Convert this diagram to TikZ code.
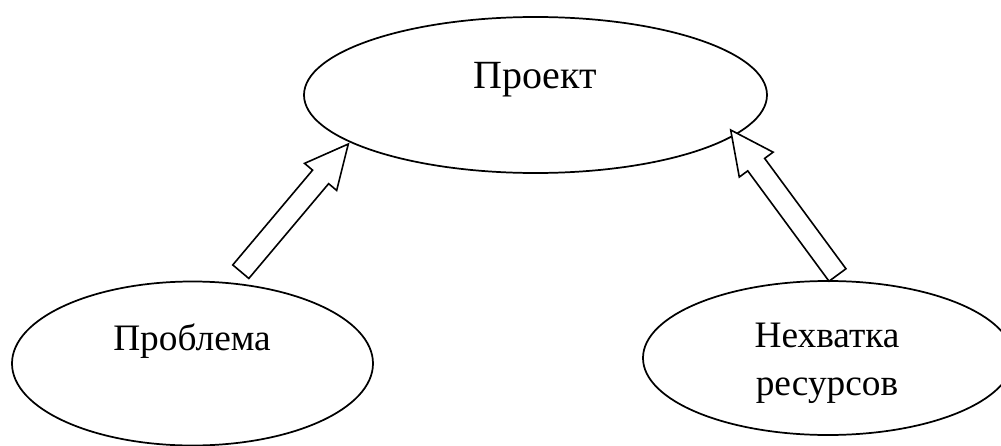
\documentclass[tikz,border=0pt]{standalone}
\usepackage{fontspec}
\setmainfont{Liberation Serif}
\usetikzlibrary{shapes.geometric,calc}
\tikzset{
  bubble/.style={draw, shape=ellipse, inner sep=0pt, line width=1.3pt},
  label28/.style={anchor=base, inner sep=0pt, font=\fontsize{28}{34}\selectfont},
  label30/.style={anchor=base, inner sep=0pt, font=\fontsize{30}{36}\selectfont},
  blockarrow/.style={draw, line width=1.2pt, line join=miter, fill=white}
}
\newcommand{\hollowarrow}[2]{%
  \path (#2) coordinate (T) ($(#2)!32.25pt!(#1)$) coordinate (H);
  \draw[blockarrow] ($(#1)!7.875pt!90:(#2)$) -- ($(H)!7.875pt!90:(T)$) --
    ($(H)!15.75pt!90:(T)$) -- (T) -- ($(H)!15.75pt!-90:(T)$) --
    ($(H)!7.875pt!-90:(T)$) -- ($(#1)!7.875pt!-90:(#2)$) -- cycle;}
\begin{document}
\begin{tikzpicture}[x=0.75pt,y=-0.75pt]
  \useasboundingbox (0,0) rectangle (1001,446);
  \fill[white] (0,0) rectangle (1001,446);
  \node[bubble, minimum width=347.25pt, minimum height=117pt] (proj) at (535.5,95) {};
  \node[bubble, minimum width=270.75pt, minimum height=123pt] (prob) at (192.5,363.5) {};
  \node[bubble, minimum width=277.5pt, minimum height=115.5pt] (res) at (828,358) {};
  \node[label30] (projtext) at (535,88) {Проект};
  \node[label28] (probtext) at (192,350) {Проблема};
  \node[label28] (restext1) at (827,347) {Нехватка};
  \node[label28] (restext2) at (827,395) {ресурсов};
  \coordinate (ltail) at (240.8,271.7);
  \coordinate (ltip) at (348.3,144);
  \coordinate (rtail) at (837.5,275);
  \coordinate (rtip) at (730.7,130);
  \hollowarrow{ltail}{ltip}
  \hollowarrow{rtail}{rtip}
\end{tikzpicture}
\end{document}
